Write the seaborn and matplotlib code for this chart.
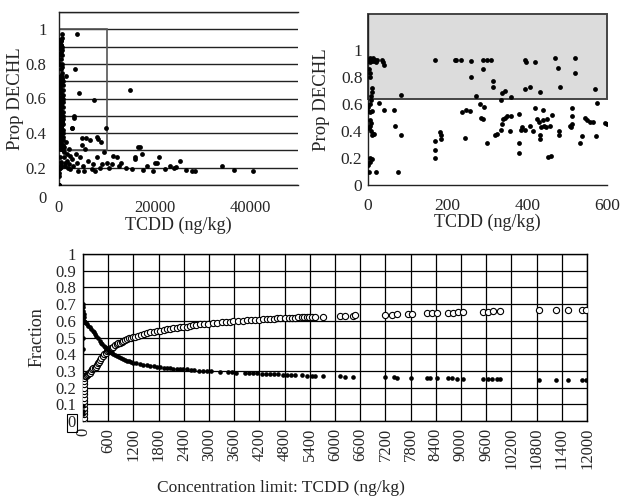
import numpy as np
import pandas as pd
import matplotlib
matplotlib.use("Agg")
import matplotlib.pyplot as plt
import seaborn as sns
from matplotlib.patches import Rectangle
from matplotlib.ticker import FuncFormatter

sns.set_style("white")
plt.rcParams['font.family'] = ['Liberation Serif', 'DejaVu Serif']
plt.rcParams['font.size'] = 12

# ---------------- samples: TCDD (ng/kg) vs proportion DECHL ----------------
tcdd = [0, 2, 4, 6, 8, 10, 12, 14, 16, 18, 20, 22, 34, 37, 40, 167,
        2, 4, 6, 9, 9, 7, 8, 5, 83, 28, 39, 66, 1, 6, 10, 0,
        5, 8, 6, 2, 7, 12, 10, 14, 69, 83, 167, 167, 167, 182, 184, 183,
        6, 9, 4, 1, 2, 21, 75,
        218, 222, 233, 259, 288, 298, 308, 259, 288, 315, 315, 271, 337, 345, 334, 360, 393, 396, 393, 406,
        280, 292, 235, 245, 255, 284, 288, 339, 345, 349, 359, 380, 337, 333, 325, 319, 357, 386, 384, 393,
        406, 243, 298, 380, 380,
        420, 470, 476, 520, 520, 433, 483, 570, 575, 419, 439, 462, 425, 430, 440, 450, 513, 511, 544, 550,
        558, 566, 595, 600, 512, 508, 509, 415, 435, 441, 448, 457, 480, 480, 433, 433, 538, 573, 532, 452, 460,
        620, 650, 680, 700, 720, 750, 780, 800, 830, 850, 880, 900, 920, 950, 640, 700, 760, 820, 870, 930,
        660, 740, 810, 890, 610,
        700, 800, 900, 1000, 1100, 1200, 1300, 1460, 1500, 1600, 1700, 1800, 2000, 2100, 2200, 2400, 2650, 2790,
        2800, 3070, 3140, 3000, 3350, 3830, 3500, 3700, 4000, 4250, 4300, 4740, 4800, 5000, 5200, 5500, 5650,
        6000, 6490, 6800, 7200, 7390, 7500, 7880, 8000, 8230, 8500, 8800, 9000, 9500, 9760, 10000, 10500,
        11360, 12070, 11000, 12500, 13000, 14000, 14850, 15200, 15900, 16000, 16600, 16950, 17430, 17640,
        18500, 19730, 20080, 20440, 21000, 22180, 23220, 24000, 24480, 25310, 26570, 27760, 28450, 34030,
        36610, 40650]
dechl = [0.92, 0.93, 0.94, 0.91, 0.93, 0.92, 0.94, 0.93, 0.92, 0.93, 0.91, 0.93, 0.93, 0.91, 0.89, 0.93,
         0.86, 0.83, 0.80, 0.72, 0.69, 0.66, 0.63, 0.60, 0.67, 0.61, 0.56, 0.56, 0.55, 0.54, 0.55, 0.58,
         0.48, 0.46, 0.44, 0.42, 0.40, 0.38, 0.37, 0.38, 0.44, 0.37, 0.33, 0.26, 0.20, 0.39, 0.37, 0.34,
         0.20, 0.19, 0.17, 0.15, 0.10, 0.10, 0.10,
         0.93, 0.93, 0.93, 0.92, 0.93, 0.93, 0.93, 0.80, 0.86, 0.77, 0.73, 0.66, 0.68, 0.70, 0.63, 0.65, 0.93, 0.91, 0.71, 0.73,
         0.60, 0.58, 0.54, 0.56, 0.55, 0.50, 0.49, 0.49, 0.50, 0.51, 0.51, 0.53, 0.45, 0.41, 0.38, 0.37, 0.40, 0.43, 0.41, 0.41,
         0.44, 0.35, 0.31, 0.31, 0.235,
         0.91, 0.94, 0.87, 0.94, 0.83, 0.69, 0.73, 0.71, 0.61, 0.57, 0.56, 0.52, 0.49, 0.47, 0.48, 0.49, 0.57, 0.51, 0.50, 0.48,
         0.47, 0.47, 0.46, 0.45, 0.45, 0.44, 0.43, 0.40, 0.43, 0.44, 0.43, 0.44, 0.40, 0.37, 0.37, 0.34, 0.365, 0.365, 0.31, 0.205, 0.215,
         0.95, 0.90, 0.85, 0.80, 0.75, 0.70, 0.65, 0.60, 0.55, 0.50, 0.45, 0.42, 0.36, 0.32, 0.88, 0.78, 0.68, 0.58, 0.48, 0.30,
         0.97, 0.62, 0.52, 0.40, 0.72,
         0.45, 0.38, 0.33, 0.29, 0.26, 0.23, 0.21, 0.73, 0.35, 0.28, 0.24, 0.20, 0.31, 0.22, 0.27, 0.19, 0.43, 0.43,
         0.25, 0.49, 0.50, 0.21, 0.77, 0.975, 0.28, 0.23, 0.18, 0.63, 0.26, 0.37, 0.33, 0.21, 0.18, 0.31, 0.37,
         0.24, 0.36, 0.19, 0.22, 0.59, 0.18, 0.38, 0.26, 0.365, 0.20, 0.35, 0.22, 0.29, 0.43, 0.23, 0.20,
         0.27, 0.26, 0.22, 0.21, 0.23, 0.20, 0.65, 0.195, 0.26, 0.25, 0.32, 0.32, 0.28, 0.185,
         0.21, 0.18, 0.225, 0.23, 0.26, 0.19, 0.21, 0.20, 0.205, 0.24, 0.185, 0.18, 0.18, 0.21,
         0.185, 0.18]

# ---------------- fraction vs concentration limit ----------------
conc_open = [20, 20, 20, 20, 20, 20, 20, 20, 20, 20, 20, 20, 20, 20,
             40, 60, 88, 120, 145, 167, 200, 225, 245, 280, 300, 326, 360, 385, 405, 440, 483, 510, 540, 570,
             603, 630, 660, 690, 721, 760, 800, 840, 881, 920, 960, 1000, 1040, 1090, 1140, 1190, 1238, 1300,
             1380, 1450, 1517, 1600, 1680, 1760, 1833, 1920, 2000, 2080, 2150, 2230, 2300, 2380, 2469, 2540,
             2620, 2700, 2786, 2880, 2983, 3090, 3190, 3300, 3400, 3500, 3580, 3700, 3800, 3900, 4000, 4100,
             4200, 4290, 4374, 4460, 4550, 4620, 4700, 4800, 4900, 4970, 5050, 5130, 5207, 5270, 5326, 5390,
             5445, 5524, 5722, 6119, 6238, 6436, 6476, 7190, 7350, 7468, 7746, 7826, 8183, 8302, 8421, 8698,
             8817, 8936, 9056, 9532, 9651, 9770, 9929, 10865, 11262, 11555, 11873, 11976]
frac_open = [0.0, 0.02, 0.04, 0.06, 0.08, 0.10, 0.12, 0.14, 0.16, 0.18, 0.20, 0.22, 0.24, 0.26,
             0.27, 0.27, 0.275, 0.28, 0.285, 0.29, 0.30, 0.31, 0.315, 0.32, 0.325, 0.335, 0.345, 0.355, 0.365, 0.375, 0.39, 0.40, 0.41, 0.42,
             0.425, 0.43, 0.435, 0.44, 0.445, 0.455, 0.46, 0.465, 0.47, 0.475, 0.48, 0.485, 0.49, 0.495, 0.50, 0.503, 0.505, 0.51,
             0.515, 0.52, 0.525, 0.53, 0.535, 0.538, 0.54, 0.545, 0.55, 0.552, 0.555, 0.558, 0.56, 0.563, 0.565, 0.568,
             0.572, 0.575, 0.578, 0.58, 0.583, 0.585, 0.588, 0.59, 0.592, 0.594, 0.596, 0.598, 0.60, 0.602, 0.604, 0.605,
             0.607, 0.608, 0.61, 0.611, 0.612, 0.614, 0.615, 0.616, 0.617, 0.618, 0.619, 0.62, 0.62, 0.621, 0.622, 0.623,
             0.623, 0.624, 0.625, 0.628, 0.63, 0.631, 0.632, 0.636, 0.637, 0.638, 0.64, 0.641, 0.644, 0.645, 0.646, 0.648,
             0.649, 0.65, 0.651, 0.654, 0.655, 0.656, 0.657, 0.662, 0.663, 0.664, 0.666, 0.667]

conc_fill = [5, 8, 10, 12, 15, 18, 20, 3, 3, 3, 3, 3,
             30, 48, 70, 100, 130, 167, 200, 240, 270, 286, 320, 360, 405, 430, 460, 490, 524, 550, 580, 610,
             643, 680, 720, 760, 802, 850, 900, 950, 1000, 1050, 1100, 1150, 1198, 1270, 1350, 1430, 1517, 1600,
             1680, 1760, 1833, 1920, 2000, 2080, 2150, 2230, 2300, 2380, 2469, 2560, 2650, 2760, 2864, 2960,
             3050, 3250, 3450, 3550, 3650, 3850, 3950, 4050, 4150, 4250, 4350, 4450, 4550, 4650, 4750, 4850,
             4950, 5050, 5207, 5326, 5445, 5524, 5722, 6119, 6238, 6436, 7190, 7400, 7468, 7800, 8183, 8263,
             8421, 8698, 8780, 8900, 9056, 9532, 9651, 9750, 9850, 9929, 10865, 11262, 11555, 11873, 11976]
frac_fill = [0.70, 0.68, 0.66, 0.64, 0.62, 0.60, 0.59, 0.50, 0.43, 0.09, 0.06, 0.04,
             0.60, 0.59, 0.585, 0.578, 0.57, 0.56, 0.55, 0.54, 0.53, 0.52, 0.508, 0.495, 0.48, 0.47, 0.46, 0.45, 0.445, 0.44, 0.43, 0.422,
             0.415, 0.41, 0.40, 0.395, 0.39, 0.383, 0.377, 0.37, 0.365, 0.36, 0.357, 0.353, 0.35, 0.345, 0.34, 0.337, 0.333, 0.33,
             0.327, 0.324, 0.321, 0.318, 0.316, 0.315, 0.314, 0.313, 0.312, 0.311, 0.31, 0.306, 0.304, 0.302, 0.30, 0.298,
             0.297, 0.295, 0.293, 0.292, 0.29, 0.288, 0.287, 0.286, 0.285, 0.284, 0.283, 0.282, 0.28, 0.279, 0.278, 0.277,
             0.276, 0.275, 0.273, 0.272, 0.271, 0.27, 0.27, 0.267, 0.266, 0.265, 0.262, 0.261, 0.26, 0.259, 0.257, 0.257,
             0.256, 0.255, 0.255, 0.254, 0.252, 0.25, 0.25, 0.25, 0.249, 0.249, 0.247, 0.246, 0.245, 0.243, 0.243]

# highlighted regions
box_tl = (0, 0.3, 10000, 1.0)      # x0, y0, x1, y1 in top-left panel
shade_tr_y0 = 0.64                 # lower bound of grey band in top-right panel

samples = pd.DataFrame({"TCDD": tcdd, "DECHL": dechl})
zoom = samples[samples["TCDD"] <= 600]
df_open = pd.DataFrame({"conc": conc_open, "frac": frac_open})
df_fill = pd.DataFrame({"conc": conc_fill, "frac": frac_fill})

fig = plt.figure(figsize=(6.2, 5), dpi=100)
W, H = 620, 500


def axes_px(x0, y_top, x1, y_bot):
    return fig.add_axes([x0 / W, 1 - y_bot / H, (x1 - x0) / W, (y_bot - y_top) / H])


fmt = FuncFormatter(lambda v, p: f"{round(v, 2):g}")

# ---------------- top-left ----------------
ax1 = axes_px(59, 12, 298, 185)
ax1.set_axisbelow(True)
sns.scatterplot(data=samples, x="TCDD", y="DECHL", ax=ax1, color="black",
                s=12, linewidth=0, zorder=3)
ax1.set_xlim(0, 50000)
ax1.set_ylim(0.1, 1.1)
yt = np.round(np.arange(0.1, 1.101, 0.1), 1)
ax1.set_yticks(yt)
ax1.set_yticklabels([f"{v:g}" if i % 2 == 1 and v <= 1.0 else "" for i, v in enumerate(yt)])
ax1.set_xticks(np.arange(0, 50001, 10000))
ax1.set_xticklabels([f"{v}" if v % 20000 == 0 else "" for v in range(0, 50001, 10000)])
ax1.yaxis.grid(True, color="#222222", lw=1.0)
ax1.xaxis.grid(False)
ax1.spines["right"].set_visible(False)
for s in ["left", "bottom", "top"]:
    ax1.spines[s].set_color("#222222")
    ax1.spines[s].set_linewidth(1.0)
ax1.add_patch(Rectangle((box_tl[0], box_tl[1]), box_tl[2] - box_tl[0], box_tl[3] - box_tl[1],
                        fill=False, edgecolor="#555555", lw=1.2, zorder=2))
ax1.tick_params(axis="both", direction="out", length=3, width=1, color="black", labelsize=12)
ax1.tick_params(axis="y", pad=6)
ax1.tick_params(axis="x", pad=8)
ax1.annotate("0", xy=(0, 0.1), xycoords="data", xytext=(-16, -14), textcoords="offset pixels",
             ha="center", va="center", annotation_clip=False, fontsize=12)
ax1.set_xlabel("TCDD (ng/kg)", labelpad=0, fontsize=13)
ax1.set_ylabel("Prop DECHL", labelpad=1, fontsize=13.5)

# ---------------- top-right ----------------
ax2 = axes_px(368, 14, 607, 185)
ax2.set_xlim(0, 600)
ax2.set_ylim(0, 1.27)
ax2.add_patch(Rectangle((0, shade_tr_y0), 600, 1.27 - shade_tr_y0, facecolor="#dcdcdc",
                        edgecolor="#444444", lw=1.4, zorder=1, clip_on=False))
sns.scatterplot(data=zoom, x="TCDD", y="DECHL", ax=ax2, color="black",
                s=12, linewidth=0, zorder=3)
ax2.set_yticks(np.round(np.arange(0, 1.01, 0.2), 1))
ax2.yaxis.set_major_formatter(fmt)
ax2.set_xticks([0, 200, 400, 600])
for s in ["right", "top"]:
    ax2.spines[s].set_visible(False)
for s in ["left", "bottom"]:
    ax2.spines[s].set_color("#222222")
    ax2.spines[s].set_linewidth(1.0)
ax2.tick_params(axis="both", direction="out", length=3, width=1, color="black", labelsize=12.5)
ax2.tick_params(axis="y", pad=1)
ax2.tick_params(axis="x", pad=6)
ax2.set_xlabel("TCDD (ng/kg)", labelpad=0, fontsize=13)
ax2.set_ylabel("Prop DECHL", labelpad=8, fontsize=13.5)

# ---------------- bottom ----------------
ax3 = axes_px(83, 254, 587, 421)
ax3.set_axisbelow(True)
sns.scatterplot(data=df_open, x="conc", y="frac", ax=ax3, color="black", facecolor="white",
                edgecolor="black", linewidth=0.8, s=20, zorder=3)
sns.scatterplot(data=df_fill, x="conc", y="frac", ax=ax3, color="black",
                linewidth=0, s=11, zorder=4)
ax3.set_xlim(0, 12000)
ax3.set_ylim(0, 1)
ax3.set_xticks(np.arange(0, 12001, 600))
ax3.set_xticklabels([str(v) for v in range(0, 12001, 600)], rotation=90)
ax3.set_yticks(np.round(np.arange(0, 1.01, 0.1), 1))
ax3.yaxis.set_major_formatter(fmt)
ax3.grid(True, color="black", lw=0.9)
for s in ax3.spines.values():
    s.set_color("black")
    s.set_linewidth(1.0)
ax3.tick_params(axis="both", direction="out", length=3, width=1, color="black", labelsize=12)
ax3.tick_params(axis="y", pad=2)
ax3.tick_params(axis="x", pad=2)
ax3.yaxis.get_major_ticks()[0].label1.set_bbox(
    dict(boxstyle="square,pad=0.05", facecolor="none", edgecolor="black", lw=0.8))
ax3.set_xlabel("Concentration limit: TCDD (ng/kg)", fontsize=12.5)
ax3.xaxis.set_label_coords(0.393, -0.355)
ax3.set_ylabel("Fraction", fontsize=13, labelpad=7)

fig.savefig("out.png", dpi=100)
